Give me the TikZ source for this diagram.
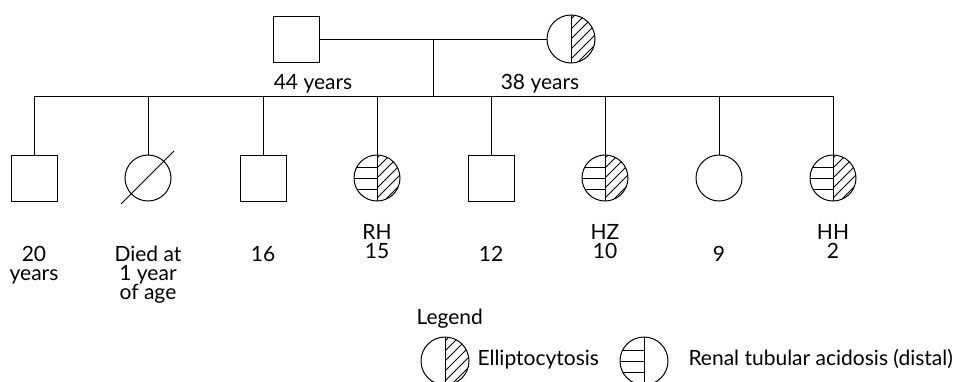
\documentclass[tikz,border=0pt]{standalone}
\usepackage{fontspec}
\setmainfont{Lato}

% hatching drawn inside a person's circle (clipped by path picture)
\newcommand{\ellhatch}{%
  \draw (path picture bounding box.north) -- (path picture bounding box.south);
  \begin{scope}[shift={(path picture bounding box.center)}]
    \clip (0pt,-13pt) rectangle (13pt,13pt);
    \foreach \c in {-10,-5,...,25}
      \draw ({\c*1pt-13pt},-13pt) -- ({\c*1pt+13pt},13pt);
  \end{scope}}
\newcommand{\rtahatch}{%
  \draw (path picture bounding box.north) -- (path picture bounding box.south);
  \begin{scope}[shift={(path picture bounding box.center)}]
    \foreach \h in {-5.5,0,5.5}
      \draw (-13pt,\h pt) -- (0pt,\h pt);
  \end{scope}}

\tikzset{
  person/.style={draw, inner sep=0pt, minimum size=23pt},
  male/.style={person, rectangle},
  female/.style={person, circle},
  ellip/.style={path picture={\ellhatch}},
  rta/.style={path picture={\rtahatch}},
  both/.style={path picture={\ellhatch\rtahatch}},
  lbl/.style={font=\fontsize{10.5}{9.5}\selectfont, align=center, inner sep=0pt}
}

\begin{document}
\begin{tikzpicture}[x=0.5pt, y=-0.5pt, line width=0.5pt]
        \useasboundingbox (0,0) rectangle (960,381);

        % --- Parents ---
        \node[male] (father) at (296,39) {};
        \node[female, ellip, minimum size=24pt] (mother) at (571,39) {};
        \node[lbl, anchor=base] (fatherage) at (313,89) {44 years};
        \node[lbl, anchor=base] (motherage) at (540,89) {38 years};

        % --- Marriage and descent lines ---
        \coordinate (mid) at (433,39);
        \coordinate (sib) at (433,96);
        \draw (father) -- (mother);
        \draw (mid) -- (sib);

        % --- Children ---
        \node[male] (c1) at (34,178) {};
        \node[female] (c2) at (148,178) {};
        \node[male] (c3) at (263,178) {};
        \node[female, both] (c4) at (377,178) {};
        \node[male] (c5) at (491,178) {};
        \node[female, both] (c6) at (605,178) {};
        \node[female] (c7) at (719,178) {};
        \node[female, both] (c8) at (833,178) {};

        % deceased
        \draw ([shift={(-27,26)}]c2.center) -- ([shift={(26,-27)}]c2.center);

        % --- Sibship line ---
        \draw (c1 |- sib) -- (c8 |- sib);
        \foreach \i in {1,...,8}
          \draw (c\i |- sib) -- (c\i.north);

        % --- Labels ---
        \node[lbl, anchor=north] (l1) at (34,246) {20\\years};
        \node[lbl, anchor=north] (l2) at (148,246) {Died at\\1 year\\of age};
        \node[lbl, anchor=north] (l3) at (263,246) {16};
        \node[lbl, anchor=south] (l4) at (377,259) {RH\\15};
        \node[lbl, anchor=north] (l5) at (491,246) {12};
        \node[lbl, anchor=south] (l6) at (605,259) {HZ\\10};
        \node[lbl, anchor=north] (l7) at (719,246) {9};
        \node[lbl, anchor=south] (l8) at (833,259) {HH\\2};

        % --- Legend ---
        \node[lbl, anchor=base west] (legend) at (416,324) {Legend};
        \node[female, ellip, minimum size=24pt] (key1) at (445,361) {};
        \node[lbl, anchor=base west] (key1txt) at (477,365) {Elliptocytosis};
        \node[female, rta, minimum size=24pt] (key2) at (644,361) {};
        \node[lbl, anchor=base west] (key2txt) at (688,365) {Renal tubular acidosis (distal)};

    \end{tikzpicture}
\end{document}
